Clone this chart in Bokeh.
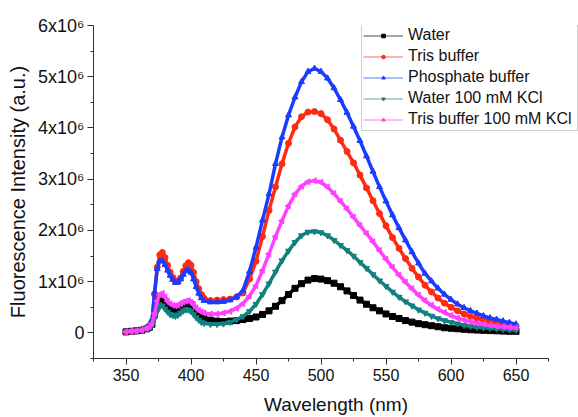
import numpy as np
from bokeh.plotting import figure
from bokeh.models import Range1d, FixedTicker, Legend, LegendItem
from bokeh.embed import file_html
from bokeh.resources import INLINE

# Wavelength (nm)
wavelength = [350, 354, 358, 362, 366, 368, 370, 372, 374, 376, 378, 380,
              382, 384, 386, 388, 390, 392, 394, 396, 398, 400, 402, 404,
              406, 408, 410, 415, 420, 425, 430, 435,
              440, 445, 450, 455, 460, 465, 470, 475, 480, 485, 490, 495,
              500, 505, 510, 515, 520, 525, 530, 535, 540, 545, 550, 555,
              560, 565, 570, 575, 580, 585, 590, 595, 600, 605, 610, 615,
              620, 625, 630, 635, 640, 645, 650]

# Fluorescence intensity, in units of 1e6 a.u.
water = [0.02, 0.03, 0.04, 0.05, 0.08, 0.11, 0.17, 0.35, 0.55, 0.67, 0.68, 0.62,
         0.55, 0.50, 0.47, 0.46, 0.48, 0.52, 0.56, 0.58, 0.58, 0.55, 0.48, 0.41,
         0.35, 0.31, 0.28, 0.25, 0.23, 0.22, 0.23, 0.24,
         0.26, 0.28, 0.31, 0.36, 0.43, 0.52, 0.63, 0.75, 0.87, 0.96, 1.03, 1.06,
         1.05, 1.02, 0.97, 0.90, 0.82, 0.73, 0.64, 0.56, 0.49, 0.43, 0.37, 0.32,
         0.28, 0.24, 0.21, 0.18, 0.16, 0.14, 0.12, 0.10, 0.09, 0.08, 0.07, 0.06,
         0.055, 0.05, 0.045, 0.04, 0.035, 0.03, 0.03]

tris = [0.02, 0.03, 0.04, 0.06, 0.10, 0.14, 0.22, 0.75, 1.28, 1.52, 1.57, 1.47,
        1.32, 1.18, 1.08, 1.01, 1.00, 1.07, 1.20, 1.31, 1.37, 1.32, 1.18, 1.00,
        0.86, 0.75, 0.68, 0.63, 0.64, 0.65, 0.66, 0.70,
        0.78, 1.05, 1.40, 1.88, 2.39, 2.85, 3.30, 3.70, 4.02, 4.22, 4.31, 4.32,
        4.28, 4.16, 3.98, 3.76, 3.54, 3.32, 3.08, 2.83, 2.58, 2.33, 2.09, 1.86,
        1.65, 1.45, 1.26, 1.09, 0.93, 0.80, 0.68, 0.58, 0.50, 0.43, 0.37, 0.32,
        0.28, 0.25, 0.21, 0.19, 0.17, 0.15, 0.13]

phosphate = [0.02, 0.03, 0.04, 0.06, 0.10, 0.14, 0.25, 0.80, 1.25, 1.40, 1.41, 1.33,
             1.22, 1.12, 1.04, 0.98, 0.99, 1.05, 1.14, 1.21, 1.23, 1.18, 1.05, 0.90,
             0.77, 0.68, 0.63, 0.60, 0.60, 0.61, 0.64, 0.70,
             0.83, 1.20, 1.67, 2.20, 2.71, 3.30, 3.82, 4.25, 4.60, 4.90, 5.10, 5.16,
             5.10, 4.97, 4.78, 4.55, 4.30, 4.03, 3.75, 3.45, 3.15, 2.85, 2.57, 2.30,
             2.05, 1.81, 1.58, 1.36, 1.16, 1.01, 0.87, 0.75, 0.65, 0.56, 0.49, 0.43,
             0.38, 0.33, 0.29, 0.26, 0.23, 0.20, 0.17]

water_kcl = [0.02, 0.03, 0.04, 0.05, 0.08, 0.10, 0.15, 0.28, 0.42, 0.52, 0.53, 0.47,
             0.41, 0.36, 0.34, 0.33, 0.35, 0.39, 0.43, 0.45, 0.45, 0.42, 0.36, 0.30,
             0.25, 0.21, 0.19, 0.17, 0.17, 0.18, 0.21, 0.26,
             0.32, 0.42, 0.56, 0.75, 0.96, 1.19, 1.41, 1.60, 1.77, 1.90, 1.97, 1.98,
             1.96, 1.90, 1.81, 1.71, 1.61, 1.50, 1.38, 1.26, 1.14, 1.02, 0.91, 0.80,
             0.70, 0.61, 0.53, 0.45, 0.39, 0.33, 0.28, 0.24, 0.21, 0.18, 0.15, 0.13,
             0.11, 0.10, 0.09, 0.08, 0.07, 0.06, 0.05]

tris_kcl = [0.02, 0.03, 0.04, 0.05, 0.09, 0.12, 0.18, 0.38, 0.62, 0.75, 0.77, 0.70,
            0.62, 0.57, 0.54, 0.53, 0.54, 0.57, 0.60, 0.62, 0.63, 0.60, 0.55, 0.49,
            0.44, 0.41, 0.39, 0.37, 0.37, 0.39, 0.42, 0.48,
            0.57, 0.72, 0.92, 1.22, 1.54, 1.88, 2.19, 2.48, 2.71, 2.86, 2.95, 2.97,
            2.94, 2.85, 2.72, 2.57, 2.42, 2.26, 2.10, 1.94, 1.78, 1.61, 1.44, 1.28,
            1.13, 0.99, 0.86, 0.74, 0.63, 0.54, 0.46, 0.40, 0.34, 0.29, 0.25, 0.22,
            0.19, 0.17, 0.15, 0.13, 0.12, 0.11, 0.10]

series_names = ["Water", "Tris buffer", "Phosphate buffer",
                "Water 100 mM KCl", "Tris buffer 100 mM KCl"]
series_values = [water, tris, phosphate, water_kcl, tris_kcl]

x_ticks = [350, 400, 450, 500, 550, 600, 650]
x_minor = [325, 375, 425, 475, 525, 575, 625, 675]
y_ticks = [0, 1000000, 2000000, 3000000, 4000000, 5000000, 6000000]
y_minor = [-500000, 500000, 1500000, 2500000, 3500000, 4500000, 5500000]
y_tick_labels = ["0", "1x10\u2076", "2x10\u2076", "3x10\u2076",
                 "4x10\u2076", "5x10\u2076", "6x10\u2076"]

colors = ["#000000", "#ff2a10", "#1a3cff", "#138080", "#ff40ff"]
markers = ["square", "circle", "triangle", "inverted_triangle", "triangle"]
angles = [0, 0, 0, 0, np.pi / 2]

FONT = "Liberation Sans"
W, H = 578, 417

# x axis drawn from 325 to 675; the frame continues to the right edge so the
# legend (which overhangs the axis end in the reference) is not clipped
p = figure(width=W, height=H, output_backend="svg", toolbar_location=None,
           x_range=Range1d(325, 325 + (W - 93) / 1.3), y_range=Range1d(-500000, 6000000),
           min_border_left=93, min_border_right=0, min_border_top=25,
           min_border_bottom=H - 359)
p.outline_line_color = None
p.grid.visible = False
p.background_fill_color = "white"
p.border_fill_color = "white"

wl = np.array(wavelength, dtype=float)
for vals, col, mk, ang in zip(series_values, colors, markers, angles):
    y = np.array(vals, dtype=float) * 1e6
    p.line(wl, y, line_color=col, line_width=3.5)
    p.scatter(wl, y, marker=mk, size=6, angle=ang, fill_color=col, line_color=col)

# legend (thin line + small marker, as in the reference)
items = []
for name, col, mk, ang in zip(series_names, colors, markers, angles):
    lr = p.line([np.nan], [np.nan], line_color=col, line_width=1, line_alpha=0.7)
    sr = p.scatter([np.nan], [np.nan], marker=mk, size=5, angle=ang,
                   fill_color=col, line_color=col)
    items.append(LegendItem(label=name, renderers=[lr, sr]))

legend = Legend(items=items, location=(268, 227))
legend.glyph_width = 40
legend.glyph_height = 9
legend.label_height = 20
legend.label_width = 168
legend.spacing = 1
legend.padding = 1
legend.margin = 0
legend.label_standoff = 5
legend.label_text_font = FONT
legend.label_text_font_size = "16px"
legend.label_text_color = "#111111"
legend.border_line_color = "#a0a0a0"
legend.border_line_width = 1
legend.background_fill_color = "white"
legend.background_fill_alpha = 1.0
p.add_layout(legend, "center")

# axes
for ax in (p.xaxis[0], p.yaxis[0]):
    ax.axis_line_color = "#303030"
    ax.major_tick_line_color = "#303030"
    ax.minor_tick_line_color = "#303030"
    ax.major_tick_in = 0
    ax.major_tick_out = 6
    ax.minor_tick_in = 0
    ax.minor_tick_out = 3
    ax.major_label_text_font = FONT
    ax.major_label_text_color = "#111111"
    ax.axis_label_text_font = FONT
    ax.axis_label_text_font_style = "normal"
    ax.axis_label_text_color = "#111111"

p.xaxis.bounds = (325, 675)
p.xaxis.ticker = FixedTicker(ticks=x_ticks, minor_ticks=x_minor)
p.yaxis.ticker = FixedTicker(ticks=y_ticks, minor_ticks=y_minor)
p.yaxis.major_label_overrides = {t: s for t, s in zip(y_ticks, y_tick_labels)}
p.xaxis.major_label_text_font_size = "16px"
p.yaxis.major_label_text_font_size = "18px"
p.xaxis.axis_label = "Wavelength (nm)"
p.yaxis.axis_label = "Fluorescence Intensity (a.u.)"
p.xaxis.axis_label_text_font_size = "19px"
p.yaxis.axis_label_text_font_size = "20px"
p.xaxis.major_label_standoff = 4
p.yaxis.major_label_standoff = 3
p.xaxis.axis_label_standoff = 10
p.yaxis.axis_label_standoff = 6

open("out.html", "w").write(file_html(p, INLINE))
